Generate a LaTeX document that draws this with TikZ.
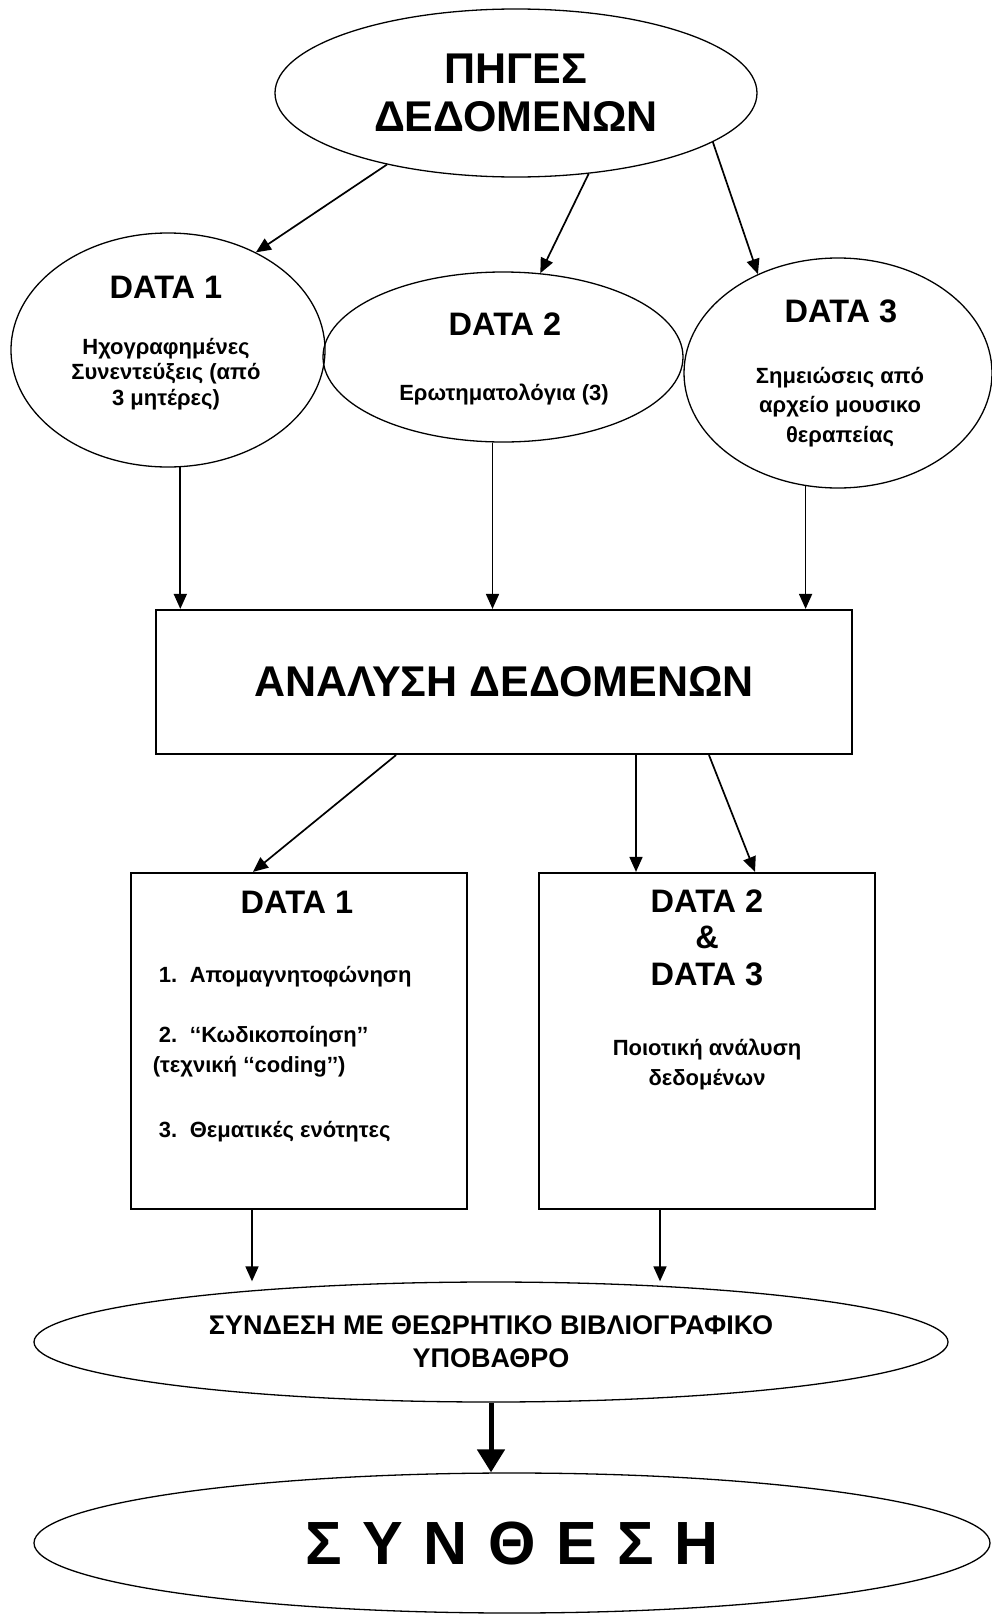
\documentclass[tikz,border=0pt]{standalone}
\usepackage{fontspec}
\setmainfont{Liberation Sans}
\usetikzlibrary{arrows.meta,shapes.geometric}

\tikzset{
  oval/.style={draw, ellipse, line width=1.3pt, inner sep=0pt},
  frame/.style={draw, line width=2.2pt, inner sep=0pt},
  head/.style={font=\bfseries\fontsize{32.5}{36.5}\selectfont, align=center, inner sep=0pt, anchor=base},
  body/.style={font=\bfseries\fontsize{22}{27.5}\selectfont, align=center, inner sep=0pt, anchor=base},
}

\begin{document}
\begin{tikzpicture}[x=1pt, y=-1pt, line width=1.7pt, >={Triangle[length=15pt,width=13pt]}]
        \useasboundingbox (0,0) rectangle (992,1614);

        \node[oval, minimum width=482pt, minimum height=168pt, align=center,
              font=\bfseries\fontsize{43}{48}\selectfont] (Src) at (516,93) {ΠΗΓΕΣ\\ΔΕΔΟΜΕΝΩΝ};

        % multi-line texts: base = last line
        \node[oval, minimum width=314pt, minimum height=234pt] (D1) at (168,350) {};
        \node[head] (D1head) at (166,298) {DATA 1};
        \node[body, font=\bfseries\fontsize{22}{25.5}\selectfont] (D1text) at (166,405)
            {Ηχογραφημένες\\Συνεντεύξεις (από\\3 μητέρες)};

        \node[oval, minimum width=360pt, minimum height=170pt] (D2) at (503,357) {};
        \node[head] (D2head) at (505,335) {DATA 2};
        \node[body] (D2text) at (504,400) {Ερωτηματολόγια (3)};

        \node[oval, minimum width=308pt, minimum height=230pt] (D3) at (838,373) {};
        \node[head] (D3head) at (841,322) {DATA 3};
        \node[body, font=\bfseries\fontsize{22}{29.5}\selectfont] (D3text) at (840,442)
            {Σημειώσεις από\\αρχείο μουσικο\\θεραπείας};

        \node[frame, minimum width=696pt, minimum height=144pt,
              font=\bfseries\fontsize{43}{50}\selectfont] (Ana) at (504,682) {ΑΝΑΛΥΣΗ ΔΕΔΟΜΕΝΩΝ};

        \node[frame, minimum width=336pt, minimum height=336pt] (B1) at (299,1041) {};
        \node[head] (B1head) at (297,913) {DATA 1};
        \node[body, align=left, anchor=base west,
              font=\bfseries\fontsize{22}{30}\selectfont] (B1list) at (152,1137)
            {\hspace*{6pt}\makebox[31pt][l]{1.}Απομαγνητοφώνηση\\[30pt]
             \hspace*{6pt}\makebox[31pt][l]{2.}‘‘Κωδικοποίηση’’\\
             (τεχνική ‘‘coding’’)\\[35pt]
             \hspace*{6pt}\makebox[31pt][l]{3.}Θεματικές ενότητες};

        \node[frame, minimum width=336pt, minimum height=336pt] (B2) at (707,1041) {};
        \node[head] (B2head) at (707,985) {DATA 2\\\&\\DATA 3};
        \node[body, font=\bfseries\fontsize{22}{30}\selectfont] (B2text) at (707,1085) {Ποιοτική ανάλυση\\δεδομένων};

        \node[oval, minimum width=914pt, minimum height=120pt, align=center,
              font=\bfseries\fontsize{27}{33}\selectfont] (Link) at (491,1342)
            {ΣΥΝΔΕΣΗ ΜΕ ΘΕΩΡΗΤΙΚΟ ΒΙΒΛΙΟΓΡΑΦΙΚΟ\\ΥΠΟΒΑΘΡΟ};
        \node[oval, minimum width=956pt, minimum height=140pt,
              font=\bfseries\fontsize{61}{72}\selectfont] (Synth) at (512,1543)
            {Σ\hspace{3.5pt} Υ\hspace{3.5pt} Ν\hspace{3.5pt} Θ\hspace{3.5pt} Ε\hspace{3.5pt} Σ\hspace{3.5pt} Η};

        \draw[->] (Src.209) -- (D1.48);
        \draw[->] (Src.312) -- (D2.66);
        \draw[->] (Src.346) -- (D3.129);
        \draw[->] (D1.276) -- (D1.276 |- Ana.north);
        \draw[->] (D2.263) -- (D2.263 |- Ana.north);
        \draw[->] (D3.254) -- (D3.254 |- Ana.north);
        \draw[->] ([xshift=-108pt]Ana.south) -- ([xshift=-46pt]B1.north);
        \draw[->] ([xshift=132pt]Ana.south) -- ([xshift=-71pt]B2.north);
        \draw[->] ([xshift=205pt]Ana.south) -- ([xshift=48pt]B2.north);
        \draw[->] ([xshift=-47pt]B1.south) -- ([xshift=-47pt]B1.south |- Link.north);
        \draw[->] ([xshift=-47pt]B2.south) -- ([xshift=-47pt]B2.south |- Link.north);
        \draw[line width=5pt, -{Triangle[length=23pt,width=27pt]}] (Link.south) -- (Link.south |- Synth.north);
    \end{tikzpicture}
\end{document}
